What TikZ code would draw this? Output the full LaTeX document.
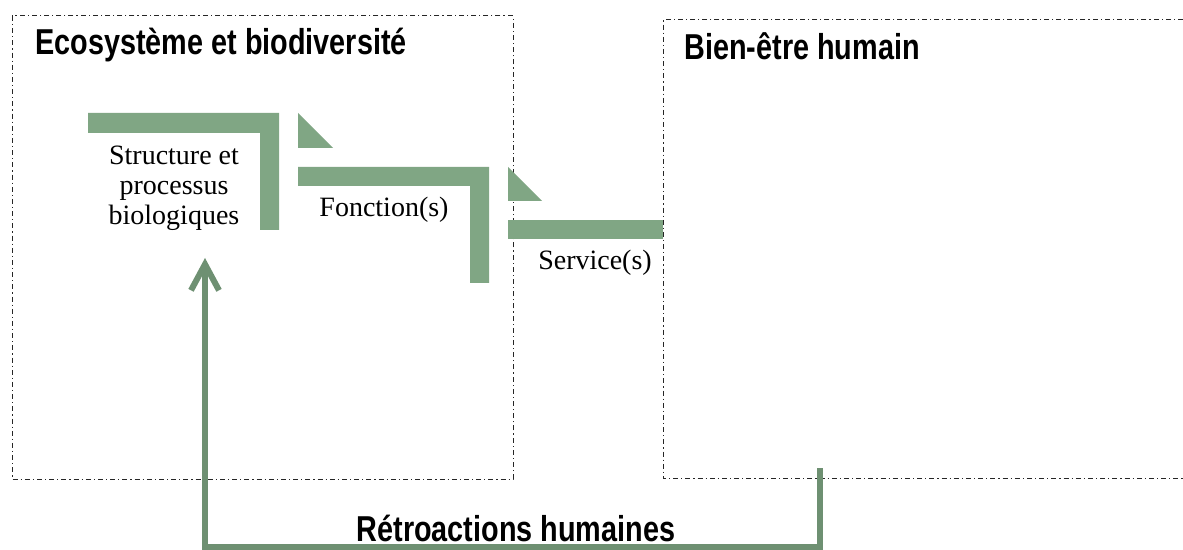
\documentclass[tikz,border=0pt]{standalone}
\usepackage{fontspec}
\setmainfont{Liberation Serif}
\newfontfamily\headfont{Liberation Sans}[FakeStretch=0.8]
\usetikzlibrary{arrows.meta}
\definecolor{leafgreen}{RGB}{128,166,132}
\definecolor{loopgreen}{RGB}{110,144,114}

\begin{document}
\begin{tikzpicture}[x=0.5pt,y=-0.5pt]
        % Define node styles
        \tikzstyle{zone} = [draw=black!85, line width=0.5pt, dash pattern=on 2.5pt off 1.5pt on 0.6pt off 1.5pt]
        \tikzstyle{heading} = [anchor=base west, inner sep=0pt, font=\headfont\bfseries\fontsize{18}{21}\selectfont]
        \tikzstyle{stage} = [align=center, inner sep=0pt, font=\fontsize{14}{15}\selectfont]
        \tikzstyle{bracket} = [fill=leafgreen]
        \tikzstyle{feedback} = [draw=loopgreen, line width=3pt, -{Straight Barb[length=13pt, width=14pt]}]

        \useasboundingbox[fill=white] (0,0) rectangle (1183,550);

        % Draw the zones
        \draw[zone] (12,16) rectangle (513,479);
        \draw[zone] (1183,20) -- (663,20) -- (663,478) -- (1183,478);
        \node[heading] (eco) at (35,55) {Ecosystème et biodiversité};
        \node[heading] (bien) at (684,60) {Bien-être humain};

        % Draw the steps
        \fill[bracket] (88,113) -- (279,113) -- (279,230) -- (260,230) -- (260,133) -- (88,133) -- cycle;
        \fill[bracket] (298,113) -- (333,148) -- (298,148) -- cycle;
        \fill[bracket] (298,167) -- (489,167) -- (489,283) -- (470,283) -- (470,186) -- (298,186) -- cycle;
        \fill[bracket] (508,167) -- (542,201) -- (508,201) -- cycle;
        \fill[bracket] (508,220) rectangle (663,239);

        \node[stage] (struct) at (174,188) {Structure et\\processus\\biologiques};
        \node[stage] (fonct) at (384,210) {Fonction(s)};
        \node[stage] (serv) at (595,263) {Service(s)};

        % Feedback loop
        \coordinate (fbstart) at (820,468);
        \coordinate (fbend) at (205,258);
        \draw[feedback] (fbstart) |- (fbend |- 0,547) -- (fbend);
        \node[heading, anchor=base] (retro) at (516,541) {Rétroactions humaines};
    \end{tikzpicture}
\end{document}
